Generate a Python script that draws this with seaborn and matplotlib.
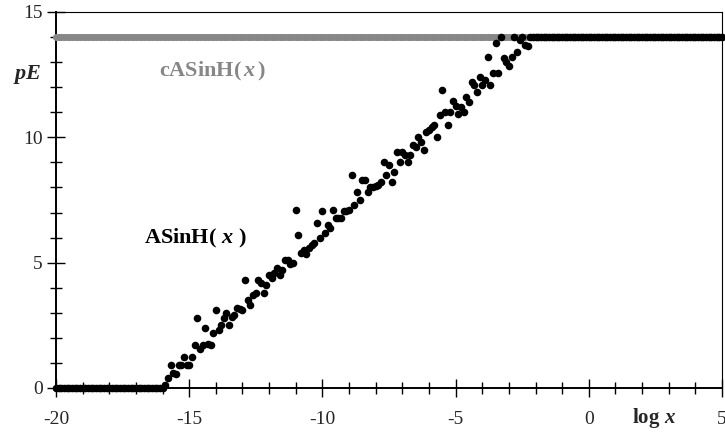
import matplotlib
matplotlib.use('Agg')
import pandas as pd
import seaborn as sns
import matplotlib.pyplot as plt
from matplotlib.ticker import MultipleLocator

# log x grid (step 0.1)
log_x = [
    -20.0, -19.9, -19.8, -19.7, -19.6, -19.5, -19.4, -19.3, -19.2, -19.1,
    -19.0, -18.9, -18.8, -18.7, -18.6, -18.5, -18.4, -18.3, -18.2, -18.1,
    -18.0, -17.9, -17.8, -17.7, -17.6, -17.5, -17.4, -17.3, -17.2, -17.1,
    -17.0, -16.9, -16.8, -16.7, -16.6, -16.5, -16.4, -16.3, -16.2, -16.1,
    -16.0, -15.9, -15.8, -15.7, -15.6, -15.5, -15.4, -15.3, -15.2, -15.1,
    -15.0, -14.9, -14.8, -14.7, -14.6, -14.5, -14.4, -14.3, -14.2, -14.1,
    -14.0, -13.9, -13.8, -13.7, -13.6, -13.5, -13.4, -13.3, -13.2, -13.1,
    -13.0, -12.9, -12.8, -12.7, -12.6, -12.5, -12.4, -12.3, -12.2, -12.1,
    -12.0, -11.9, -11.8, -11.7, -11.6, -11.5, -11.4, -11.3, -11.2, -11.1,
    -11.0, -10.9, -10.8, -10.7, -10.6, -10.5, -10.4, -10.3, -10.2, -10.1,
    -10.0, -9.9, -9.8, -9.7, -9.6, -9.5, -9.4, -9.3, -9.2, -9.1,
    -9.0, -8.9, -8.8, -8.7, -8.6, -8.5, -8.4, -8.3, -8.2, -8.1,
    -8.0, -7.9, -7.8, -7.7, -7.6, -7.5, -7.4, -7.3, -7.2, -7.1,
    -7.0, -6.9, -6.8, -6.7, -6.6, -6.5, -6.4, -6.3, -6.2, -6.1,
    -6.0, -5.9, -5.8, -5.7, -5.6, -5.5, -5.4, -5.3, -5.2, -5.1,
    -5.0, -4.9, -4.8, -4.7, -4.6, -4.5, -4.4, -4.3, -4.2, -4.1,
    -4.0, -3.9, -3.8, -3.7, -3.6, -3.5, -3.4, -3.3, -3.2, -3.1,
    -3.0, -2.9, -2.8, -2.7, -2.6, -2.5, -2.4, -2.3, -2.2, -2.1,
    -2.0, -1.9, -1.8, -1.7, -1.6, -1.5, -1.4, -1.3, -1.2, -1.1,
    -1.0, -0.9, -0.8, -0.7, -0.6, -0.5, -0.4, -0.3, -0.2, -0.1,
    0.0, 0.1, 0.2, 0.3, 0.4, 0.5, 0.6, 0.7, 0.8, 0.9,
    1.0, 1.1, 1.2, 1.3, 1.4, 1.5, 1.6, 1.7, 1.8, 1.9,
    2.0, 2.1, 2.2, 2.3, 2.4, 2.5, 2.6, 2.7, 2.8, 2.9,
    3.0, 3.1, 3.2, 3.3, 3.4, 3.5, 3.6, 3.7, 3.8, 3.9,
    4.0, 4.1, 4.2, 4.3, 4.4, 4.5, 4.6, 4.7, 4.8, 4.9,
    5.0,
]

# pE for ASinH(x) (black)
asinh_pe = [
    0, 0, 0, 0, 0, 0, 0, 0, 0, 0,
    0, 0, 0, 0, 0, 0, 0, 0, 0, 0,
    0, 0, 0, 0, 0, 0, 0, 0, 0, 0,
    0, 0, 0, 0, 0, 0, 0, 0, 0, 0,
    0.0, 0.1, 0.4, 0.9, 0.6, 0.55, 0.9, 0.92, 1.25, 0.92,
    0.92, 1.25, 1.7, 2.8, 1.55, 1.7, 2.4, 1.75, 1.72, 2.2,
    3.1, 2.3, 2.5, 2.8, 3.0, 2.5, 2.85, 2.9, 3.2, 3.15,
    3.1, 4.3, 3.5, 3.3, 3.7, 3.8, 4.3, 4.2, 3.8, 4.1,
    4.5, 4.4, 4.6, 4.8, 4.5, 4.7, 5.1, 5.1, 4.95, 5.0,
    7.1, 6.1, 5.4, 5.5, 5.35, 5.6, 5.7, 5.8, 6.6, 6.0,
    7.05, 6.2, 6.5, 6.4, 7.1, 6.8, 6.8, 6.8, 7.05, 7.05,
    7.1, 8.5, 7.3, 7.8, 7.5, 8.3, 8.3, 7.8, 8.0, 8.0,
    8.05, 8.1, 8.2, 9.0, 8.5, 8.9, 8.2, 8.6, 9.4, 9.0,
    9.4, 9.3, 9.0, 9.3, 9.7, 9.6, 10.0, 9.8, 9.5, 10.2,
    10.3, 10.4, 10.5, 10.0, 10.9, 11.9, 11.0, 10.5, 11.0, 11.45,
    11.25, 10.95, 11.2, 11.0, 11.6, 11.4, 12.2, 12.1, 11.8, 12.4,
    12.1, 12.3, 13.2, 12.1, 12.55, 13.75, 12.55, 14.0, 13.15, 13.0,
    12.85, 13.2, 14.0, 13.4, 13.9, 14.0, 13.7, 13.65, 14.0, 14.0,
    14, 14, 14, 14, 14, 14, 14, 14, 14, 14,
    14, 14, 14, 14, 14, 14, 14, 14, 14, 14,
    14, 14, 14, 14, 14, 14, 14, 14, 14, 14,
    14, 14, 14, 14, 14, 14, 14, 14, 14, 14,
    14, 14, 14, 14, 14, 14, 14, 14, 14, 14,
    14, 14, 14, 14, 14, 14, 14, 14, 14, 14,
    14, 14, 14, 14, 14, 14, 14, 14, 14, 14,
    14,
]

# pE for cASinH(x) (grey) - flat at 14 everywhere
casinh_pe = [
    14, 14, 14, 14, 14, 14, 14, 14, 14, 14, 14, 14, 14, 14, 14, 14, 14, 14, 14, 14, 14, 14, 14, 14, 14,
    14, 14, 14, 14, 14, 14, 14, 14, 14, 14, 14, 14, 14, 14, 14, 14, 14, 14, 14, 14, 14, 14, 14, 14, 14,
    14, 14, 14, 14, 14, 14, 14, 14, 14, 14, 14, 14, 14, 14, 14, 14, 14, 14, 14, 14, 14, 14, 14, 14, 14,
    14, 14, 14, 14, 14, 14, 14, 14, 14, 14, 14, 14, 14, 14, 14, 14, 14, 14, 14, 14, 14, 14, 14, 14, 14,
    14, 14, 14, 14, 14, 14, 14, 14, 14, 14, 14, 14, 14, 14, 14, 14, 14, 14, 14, 14, 14, 14, 14, 14, 14,
    14, 14, 14, 14, 14, 14, 14, 14, 14, 14, 14, 14, 14, 14, 14, 14, 14, 14, 14, 14, 14, 14, 14, 14, 14,
    14, 14, 14, 14, 14, 14, 14, 14, 14, 14, 14, 14, 14, 14, 14, 14, 14, 14, 14, 14, 14, 14, 14, 14, 14,
    14, 14, 14, 14, 14, 14, 14, 14, 14, 14, 14, 14, 14, 14, 14, 14, 14, 14, 14, 14, 14, 14, 14, 14, 14,
    14, 14, 14, 14, 14, 14, 14, 14, 14, 14, 14, 14, 14, 14, 14, 14, 14, 14, 14, 14, 14, 14, 14, 14, 14,
    14, 14, 14, 14, 14, 14, 14, 14, 14, 14, 14, 14, 14, 14, 14, 14, 14, 14, 14, 14, 14, 14, 14, 14, 14,
    14,
]

GREY = '#878787'

sns.set_style('white')
plt.rcParams['font.family'] = ['Liberation Serif', 'DejaVu Serif']
plt.rcParams['axes.unicode_minus'] = False
plt.rcParams['mathtext.fontset'] = 'custom'
plt.rcParams['mathtext.rm'] = 'Liberation Serif:bold'
plt.rcParams['mathtext.it'] = 'Liberation Serif:italic:bold'
plt.rcParams['mathtext.bf'] = 'Liberation Serif:bold'

df = pd.DataFrame({'log_x': log_x, 'ASinH': asinh_pe, 'cASinH': casinh_pe})

fig = plt.figure(figsize=(7.25, 4.34), dpi=100)
ax = fig.add_axes([56 / 725, 46 / 434, 666 / 725, 376 / 434])

sns.scatterplot(data=df, x='log_x', y='cASinH', color=GREY, s=26,
                linewidth=0, ax=ax, clip_on=False, zorder=3)
sns.scatterplot(data=df, x='log_x', y='ASinH', color='black', s=30,
                linewidth=0, ax=ax, clip_on=False, zorder=4)

ax.set_xlim(-20, 5)
ax.set_ylim(0, 15)
ax.xaxis.set_major_locator(MultipleLocator(5))
ax.xaxis.set_minor_locator(MultipleLocator(1))
ax.yaxis.set_major_locator(MultipleLocator(5))
ax.yaxis.set_minor_locator(MultipleLocator(1))
ax.tick_params(which='both', direction='inout', bottom=True, left=True,
               top=False, right=False, color='black', width=1)
ax.tick_params(which='major', length=13, labelsize=14)
ax.tick_params(axis='x', which='major', pad=10)
ax.tick_params(axis='y', which='major', pad=3)
ax.tick_params(which='minor', length=9)
ax.set_xlabel('')
ax.set_ylabel('')

for side in ['left', 'bottom']:
    ax.spines[side].set_linewidth(1.4)
    ax.spines[side].set_color('black')
for side in ['top', 'right']:
    ax.spines[side].set_linewidth(0.8)
    ax.spines[side].set_color('black')

ax.text(-14.11, 12.64, r'$\mathrm{cASinH(}\,x\,\mathrm{)}$', color=GREY,
        fontsize=16, ha='center', va='center')
ax.text(-14.75, 5.98, r'$\mathrm{ASinH(}\ x\ \mathrm{)}$', color='black',
        fontsize=16, ha='center', va='center')
fig.text(27 / 725, 1 - 75 / 434, r'$pE$', fontsize=16, ha='center', va='center')
fig.text(654 / 725, 1 - 418 / 434, r'$\mathrm{log}\ x$', fontsize=15,
         ha='center', va='center')

fig.savefig('out.png', dpi=100)
